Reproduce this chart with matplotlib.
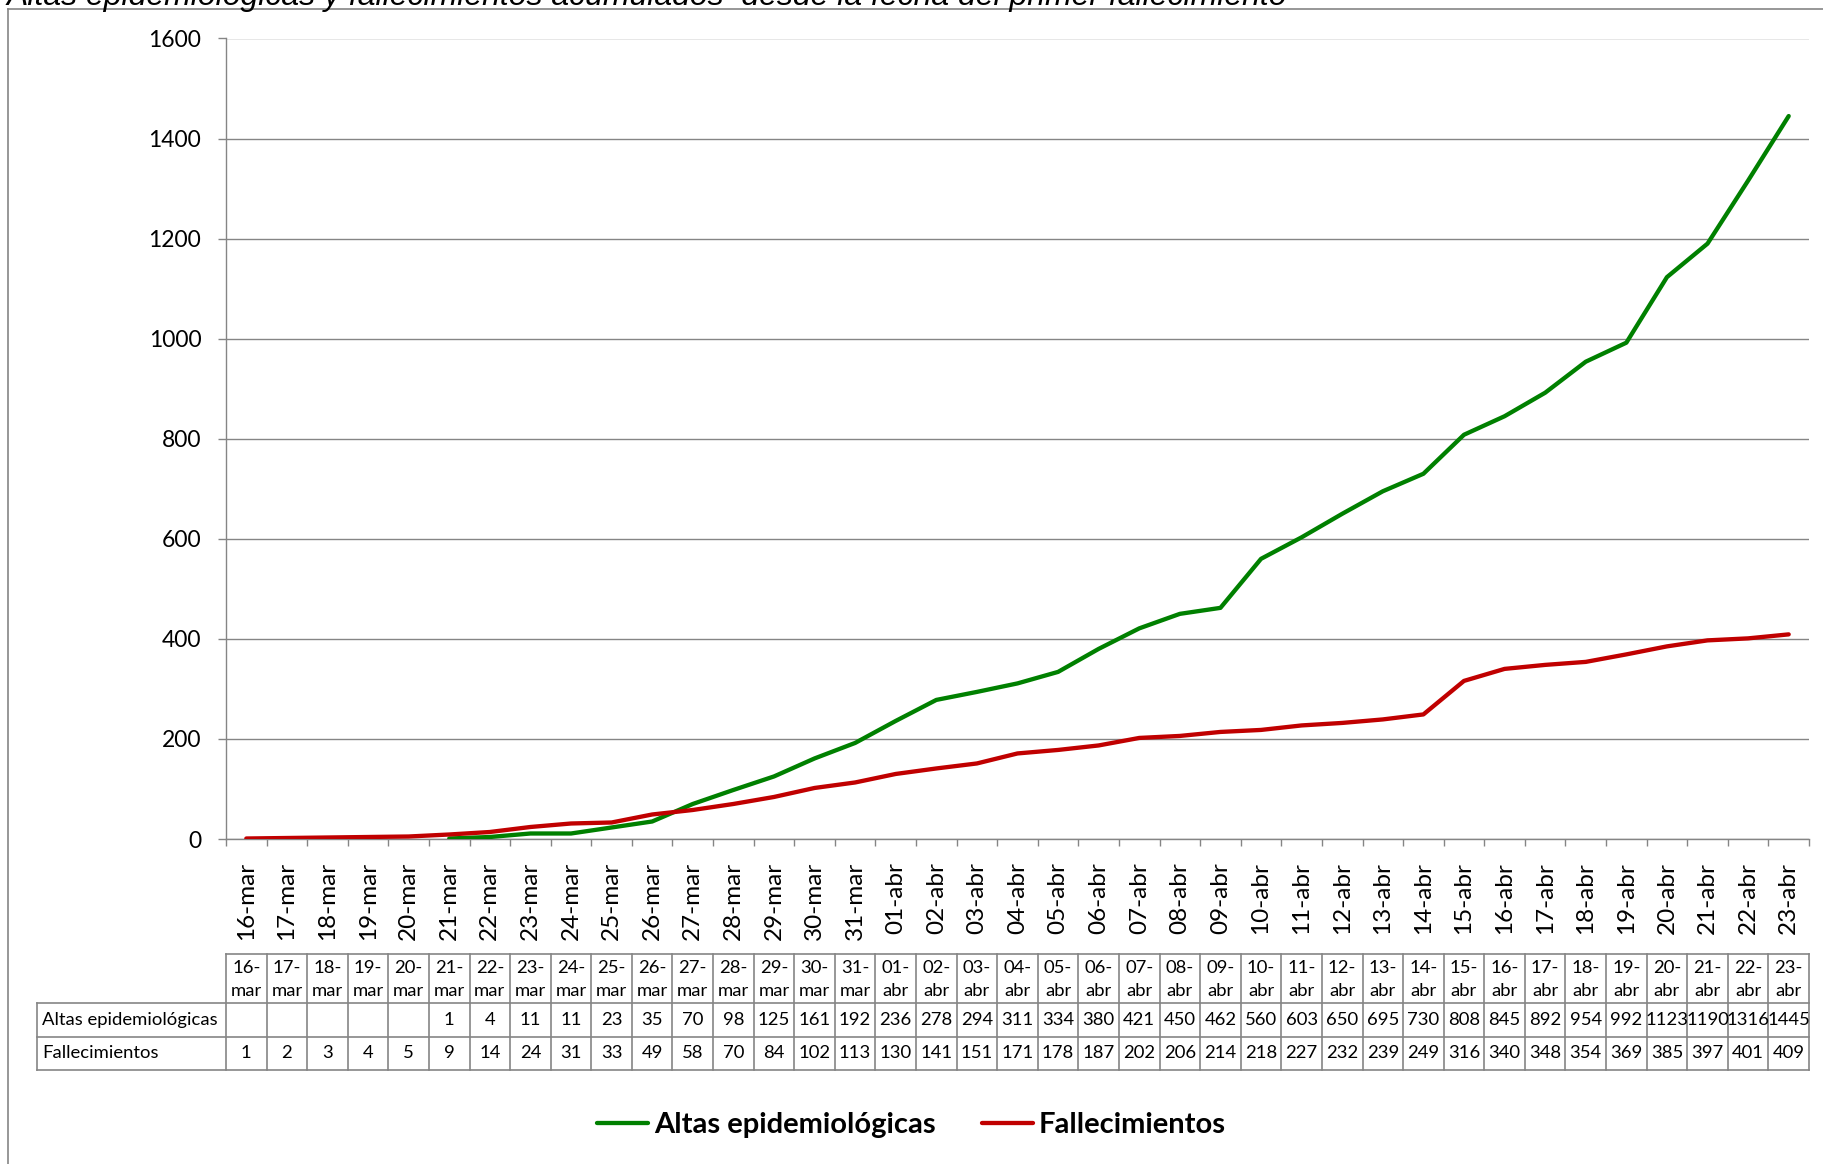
import numpy as np
import matplotlib.pyplot as plt
from matplotlib import font_manager
from matplotlib.lines import Line2D

# ---- data ----
dates = ["16-mar", "17-mar", "18-mar", "19-mar", "20-mar", "21-mar", "22-mar", "23-mar",
         "24-mar", "25-mar", "26-mar", "27-mar", "28-mar", "29-mar", "30-mar", "31-mar",
         "01-abr", "02-abr", "03-abr", "04-abr", "05-abr", "06-abr", "07-abr", "08-abr",
         "09-abr", "10-abr", "11-abr", "12-abr", "13-abr", "14-abr", "15-abr", "16-abr",
         "17-abr", "18-abr", "19-abr", "20-abr", "21-abr", "22-abr", "23-abr"]
altas = [np.nan, np.nan, np.nan, np.nan, np.nan,
         1, 4, 11, 11, 23, 35, 70, 98, 125, 161, 192,
         236, 278, 294, 311, 334, 380, 421, 450, 462, 560, 603, 650, 695, 730,
         808, 845, 892, 954, 992, 1123, 1190, 1316, 1445]
fallecimientos = [1, 2, 3, 4, 5, 9, 14, 24, 31, 33, 49, 58, 70, 84, 102, 113,
                  130, 141, 151, 171, 178, 187, 202, 206, 214, 218, 227, 232, 239, 249,
                  316, 340, 348, 354, 369, 385, 397, 401, 409]
series_names = ["Altas epidemiológicas", "Fallecimientos"]
series_colors = ["#008000", "#C00000"]
y_ticks = [0, 200, 400, 600, 800, 1000, 1200, 1400, 1600]
title = "Altas epidemiológicas y fallecimientos acumulados  desde la fecha del primer fallecimiento"

# ---- fonts ----
installed = set(font_manager.get_font_names())
BODY = "Lato" if "Lato" in installed else "DejaVu Sans"
TITLE_FONT = "Liberation Sans" if "Liberation Sans" in installed else "DejaVu Sans"

W, H, DPI = 1823, 1164, 100
GREY = "#858585"


def fx(px):
    return px / W


def fy(py):
    return 1 - py / H


fig = plt.figure(figsize=(W / DPI, H / DPI), dpi=DPI)

# chart area frame (only top / left edges fall inside the picture)
fig.add_artist(Line2D([fx(8), fx(8)], [fy(9), -0.1], color=GREY, lw=1.2))
fig.add_artist(Line2D([fx(8), 1.1], [fy(9), fy(9)], color=GREY, lw=1.2))

# title sits mostly above the top edge, as in the source image
fig.text(fx(7), fy(5), title, family=TITLE_FONT, style="italic", fontsize=23,
         ha="left", va="baseline")

# ---- main plot ----
AX_L, AX_R, AX_T, AX_B = 226, 1809, 38.5, 839
n = len(dates)
x = np.arange(n)

ax = fig.add_axes([fx(AX_L), fy(AX_B), (AX_R - AX_L) / W, (AX_B - AX_T) / H])
lines = []
for vals, name, col in zip([altas, fallecimientos], series_names, series_colors):
    ln, = ax.plot(x, vals, color=col, lw=3.1, solid_capstyle="round",
                  solid_joinstyle="round", label=name, zorder=3)
    lines.append(ln)

ax.set_xlim(-0.5, n - 0.5)
ax.set_ylim(0, 1600)
ax.set_yticks(y_ticks)
ax.set_yticklabels([str(v) for v in y_ticks], family=BODY, fontsize=16.5)
ax.set_xticks(x)
ax.set_xticklabels(dates, rotation=90, family=BODY, fontsize=17.5)
ax.set_xticks(np.arange(n + 1) - 0.5, minor=True)
ax.tick_params(axis="x", which="major", length=0, pad=16.5)
ax.tick_params(axis="x", which="minor", length=5, width=1, color=GREY)
ax.tick_params(axis="y", length=5.8, width=1, color=GREY, pad=12)
ax.yaxis.grid(True, color=GREY, lw=1)
ax.set_axisbelow(True)
for s in ["top", "right"]:
    ax.spines[s].set_visible(False)
for s in ["left", "bottom"]:
    ax.spines[s].set_color(GREY)
    ax.spines[s].set_linewidth(1)

# ---- data table under the chart ----
T_TOP, T_MID1, T_MID2, T_BOT = 954, 1003, 1037, 1070
LABEL_LEFT = 37
tax = fig.add_axes([fx(AX_L), fy(T_BOT), (AX_R - AX_L) / W, (T_BOT - T_TOP) / H])
tax.set_xlim(-0.5, n - 0.5)
tax.set_ylim(T_BOT, T_TOP)
tax.axis("off")
cat_w = (AX_R - AX_L) / n
x_left = -0.5 - (AX_L - LABEL_LEFT) / cat_w
lkw = dict(color=GREY, lw=1.2, clip_on=False)

tax.plot([-0.5, n - 0.5], [T_TOP, T_TOP], **lkw)
for yy in [T_MID1, T_MID2, T_BOT]:
    tax.plot([x_left, n - 0.5], [yy, yy], **lkw)
for b in np.arange(n + 1) - 0.5:
    tax.plot([b, b], [T_TOP, T_BOT], **lkw)
tax.plot([x_left, x_left], [T_MID1, T_BOT], **lkw)

tkw = dict(family=BODY, fontsize=13.3, ha="center", va="center", clip_on=False)
for i, d in enumerate(dates):
    day, month = d.split("-")
    tax.text(i, 968, day + "-", **tkw)
    tax.text(i, 991, month, **tkw)
row_y = [(T_MID1 + T_MID2) / 2, (T_MID2 + T_BOT) / 2]
for vals, name, yy in zip([altas, fallecimientos], series_names, row_y):
    tax.text(x_left + 5 / cat_w, yy, name, family=BODY, fontsize=13.3,
             ha="left", va="center", clip_on=False)
    for i, v in enumerate(vals):
        if not np.isnan(v):
            tax.text(i, yy, str(int(v)), **tkw)

# ---- legend ----
fig.legend(lines, series_names, loc="center", bbox_to_anchor=(0.5, fy(1125)),
           ncol=2, frameon=False,
           prop=dict(family=BODY, weight="bold", size=21),
           handlelength=1.75, handletextpad=0.2, columnspacing=1.6)

fig.savefig("out.png", dpi=DPI)
